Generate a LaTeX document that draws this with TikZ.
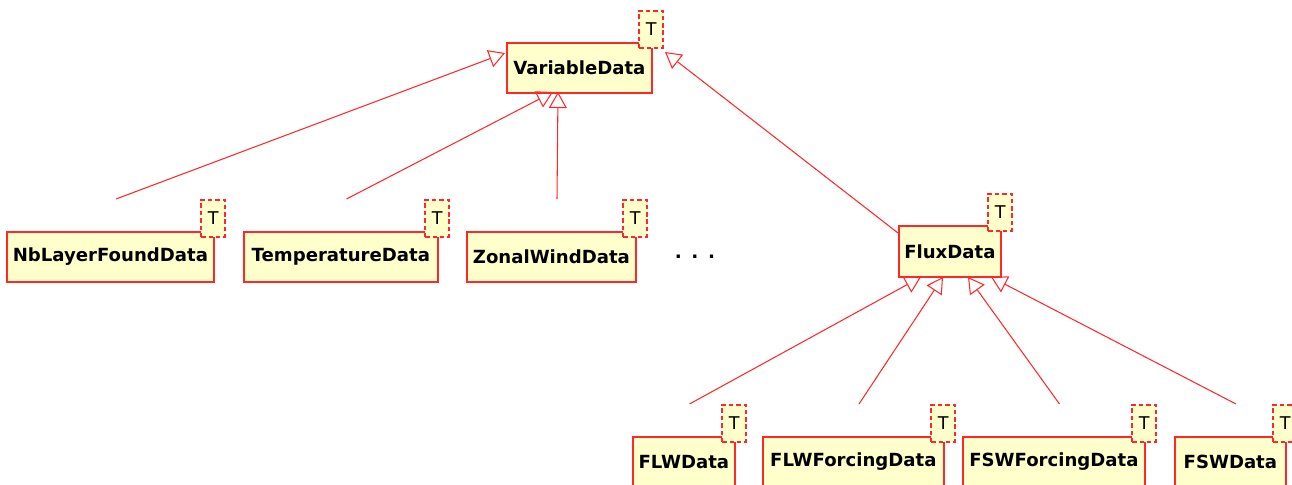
\documentclass[tikz,border=0pt]{standalone}
\usepackage{fontspec}
\setmainfont{DejaVu Sans}
\usetikzlibrary{arrows.meta}
\definecolor{clsfill}{RGB}{255,255,204}
\definecolor{clsline}{RGB}{255,40,40}

% class box with its template tag, sizes in pixels
\newcommand{\umlclass}[6]{%
  \node[cls, minimum width=#4*0.02cm, minimum height=#5*0.02cm] (#1) at (#2,#3) {#6};
  \node[tpar] (#1T) at (#2+#4+13,#3-32) {T};
  \coordinate (#1top) at (#2+#4/2+6.5,#3-32);
}

\begin{document}
\begin{tikzpicture}[x=0.02cm, y=-0.02cm,
    cls/.style = {draw=clsline, fill=clsfill, line width=1pt, anchor=north west, inner sep=0pt, font=\bfseries\fontsize{10.3}{12}\selectfont},
    tpar/.style = {draw=clsline, fill=clsfill, line width=1pt, dash pattern=on 2.6pt off 1.6pt, anchor=north east, minimum width=0.48cm, minimum height=0.74cm, inner sep=0pt, font=\fontsize{10}{12}\selectfont},
    gen/.style = {draw=clsline, line width=0.6pt, -{Triangle[open, length=0.32cm, width=0.36cm]}}]
  \useasboundingbox (0,0) rectangle (1292,484);

  % arrow tips on the parents
  \coordinate (tipNb) at (505,53);
  \coordinate (tipTemp) at (553,92);
  \coordinate (tipZonal) at (558,92);
  \coordinate (tipFlux) at (665,52);
  \coordinate (tipFlw) at (921,277);
  \coordinate (tipFlwf) at (943,277);
  \coordinate (tipFswf) at (968,277);
  \coordinate (tipFsw) at (991,277);
  \coordinate (fluxleft) at (898,233);

  \umlclass{var}{506}{42}{145}{50}{VariableData}
  \umlclass{nb}{6}{231}{207}{50}{NbLayerFoundData}
  \umlclass{temp}{243}{231}{194}{50}{TemperatureData}
  \umlclass{zonal}{466}{231}{169}{50}{ZonalWindData}
  \umlclass{flux}{898}{225}{102}{51}{FluxData}
  \umlclass{flw}{632}{436}{102}{50}{FLWData}
  \umlclass{flwf}{762}{436}{181}{50}{FLWForcingData}
  \umlclass{fswf}{962}{436}{182}{50}{FSWForcingData}
  \umlclass{fsw}{1174}{436}{111}{50}{FSWData}

  \node[font=\bfseries\fontsize{10.5}{12}\selectfont] (dots) at (695,257) {.\hspace{5.5pt}.\hspace{5.5pt}.};

  % generalisations
  \foreach \child/\tip in {nbtop/tipNb, temptop/tipTemp, zonaltop/tipZonal, fluxleft/tipFlux,
      flwtop/tipFlw, flwftop/tipFlwf, fswftop/tipFswf, fswtop/tipFsw}
    \draw[gen] (\child) -- (\tip);
\end{tikzpicture}
\end{document}
